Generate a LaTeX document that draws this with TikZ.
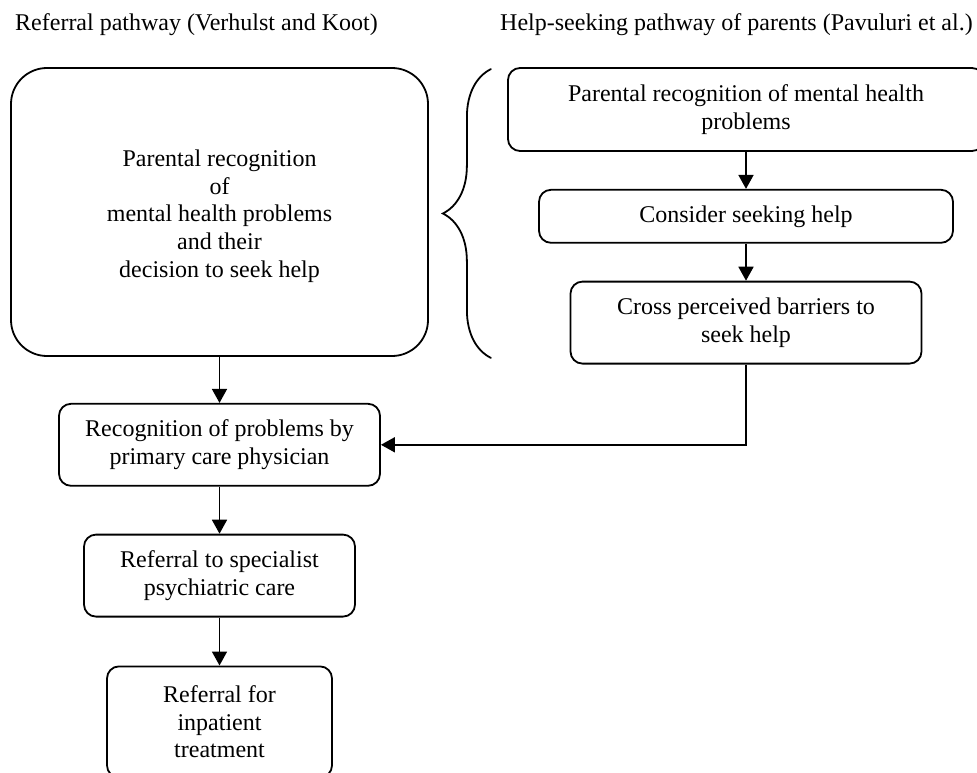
\documentclass[tikz,border=0pt]{standalone}
\usepackage{fontspec}
\setmainfont{Liberation Serif}
\usepackage{tikz}
\usetikzlibrary{arrows.meta, positioning, decorations.pathreplacing}
\tikzstyle{stage} = [rectangle, rounded corners=12pt, draw=black, line width=1.8pt, text centered, align=center, inner sep=4pt]
\tikzstyle{bigstage} = [stage, rounded corners=36pt, minimum width=417pt, minimum height=288pt]
\tikzstyle{heading} = [anchor=base west, inner sep=0pt]
\tikzstyle{arrow} = [line width=1.8pt, -{Triangle[length=14pt,width=15pt]}]
\tikzstyle{brace} = [line width=1.8pt, line cap=round, decorate, decoration={brace, amplitude=48pt}]

\begin{document}
\begin{tikzpicture}[x=1pt, y=1pt, font=\fontsize{24}{27.6}\selectfont]
    \useasboundingbox (0,0) rectangle (977,-773);

    \node (headref) [heading] at (15,-31) {Referral pathway (Verhulst and Koot)};
    \node (headhelp) [heading] at (500,-31) {Help-seeking pathway of parents (Pavuluri et al.)};

    % referral pathway
    \node (parent) [bigstage] at (219.5,-212) {\rule{0pt}{25pt}Parental recognition\\ of\\ mental health problems\\ and their\\ decision to seek help};
    \node (gp) [stage, below=46pt of parent, minimum width=321pt, minimum height=82pt] {Recognition of problems by\\ primary care physician};
    \node (spec) [stage, below=47pt of gp, minimum width=271pt, minimum height=82pt] {Referral to specialist\\ psychiatric care};
    \node (inpat) [stage, below=48pt of spec, minimum width=225pt, minimum height=111pt] {Referral for\\ inpatient\\ treatment};

    % help-seeking pathway
    \node (notice) [stage, minimum width=476pt, minimum height=83pt] at (746,-109.5) {Parental recognition of mental health\\ problems};
    \node (consider) [stage, below=37pt of notice, minimum width=414pt, minimum height=53pt] {Consider seeking help};
    \node (barrier) [stage, below=37pt of consider, minimum width=351pt, minimum height=82pt] {Cross perceived barriers to\\ seek help};

    \coordinate (bracetop) at ([xshift=62pt,yshift=-2pt]parent.north east);
    \coordinate (bracebot) at ([xshift=62pt,yshift=-1pt]parent.south east);
    \draw [brace] (bracebot) -- (bracetop);

    \draw [arrow] (parent) -- (gp);
    \draw [arrow] (gp) -- (spec);
    \draw [arrow] (spec) -- (inpat);
    \draw [arrow] (notice) -- (consider);
    \draw [arrow] (consider) -- (barrier);
    \draw [arrow] (barrier.south) |- (gp.east);
\end{tikzpicture}
\end{document}
